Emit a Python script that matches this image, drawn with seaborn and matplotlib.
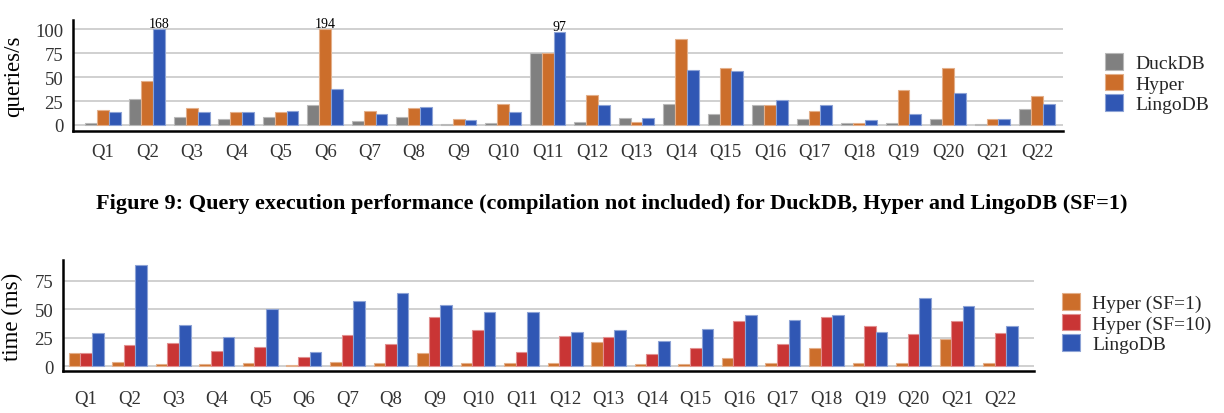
import numpy as np
import pandas as pd
import matplotlib
matplotlib.use("Agg")
import matplotlib.pyplot as plt
import matplotlib.colors as mcolors
import seaborn as sns

queries = ["Q%d" % i for i in range(1, 23)]

# top chart: queries/s (SF=1)
duckdb = [2, 26.7, 8, 6, 8.7, 21, 4.5, 8, 0.5, 2.4, 75.3, 3.1, 6.9, 21.5, 11.8, 20.5, 6.2, 2, 2.4, 6.2, 1.4, 16.3]
hyper = [15.6, 45.5, 17.4, 14, 13.2, 194, 14.2, 17.4, 6.6, 21.9, 75.3, 31.2, 3.5, 89.6, 59.4, 21.2, 14.6, 2, 36.8, 60, 6.2, 30.2]
lingodb = [14, 168, 13, 13.5, 15, 37.5, 11.8, 19, 4.9, 13.9, 97, 20.8, 6.9, 57.3, 55.9, 26, 20.8, 4.9, 11.5, 33, 6.2, 21.9]

# bottom chart: time (ms)
hyper_sf1 = [11.4, 3.5, 1.8, 1.8, 2.9, 1.2, 3.5, 2.6, 11.7, 2.6, 2.3, 2.9, 21.4, 1.8, 2, 7, 2.3, 16.1, 2.3, 2.3, 24, 2.6]
hyper_sf10 = [11.4, 18.5, 20.5, 12.9, 16.4, 8.2, 27, 19.3, 42.8, 31.6, 12, 26, 25.5, 10.8, 15.8, 39.6, 19.3, 42.8, 35.2, 28.1, 39.3, 28.7]
lingodb_ms = [29.3, 89, 36.3, 25.8, 49.8, 12.3, 56.8, 63.9, 53.3, 47.2, 47.8, 30.2, 31.6, 21.7, 32.5, 45.1, 40.4, 44.8, 29.6, 59.5, 52.4, 34.9]

GRAY = "#808080"
ORANGE = "#CC6E2B"
RED = "#C93535"
BLUE = "#3057B4"

sns.set_theme(style="white")
plt.rcParams["font.family"] = ["Liberation Serif", "DejaVu Serif"]

top = pd.DataFrame({
    "query": queries * 3,
    "system": ["DuckDB"] * 22 + ["Hyper"] * 22 + ["LingoDB"] * 22,
    "value": duckdb + hyper + lingodb,
})
top["shown"] = top["value"].clip(upper=100)

bot = pd.DataFrame({
    "query": queries * 3,
    "system": ["Hyper (SF=1)"] * 22 + ["Hyper (SF=10)"] * 22 + ["LingoDB"] * 22,
    "value": hyper_sf1 + hyper_sf10 + lingodb_ms,
})

fig = plt.figure(figsize=(12.24, 4.14), dpi=100)
ax1 = fig.add_axes([0.0596, 0.682, 0.809, 0.268])
ax2 = fig.add_axes([0.0515, 0.1014, 0.793, 0.268])


def lighten(c, amt=0.45):
    r, g, b = mcolors.to_rgb(c)
    return (r + (1 - r) * amt, g + (1 - g) * amt, b + (1 - b) * amt)


def style(ax, ylabel, xlim, ylim, xpad):
    ax.set_xlim(*xlim)
    ax.set_ylim(*ylim)
    ax.set_yticks([0, 25, 50, 75] + ([100] if ylim[1] > 100 else []))
    ax.grid(axis="y", color="#c8c8c8", linewidth=1.2)
    ax.set_axisbelow(True)
    for s in ["top", "right"]:
        ax.spines[s].set_visible(False)
    for s in ["left", "bottom"]:
        ax.spines[s].set_color("black")
        ax.spines[s].set_linewidth(1.8)
    ax.tick_params(axis="x", length=0, pad=xpad, labelsize=13.5, labelcolor="#333333")
    ax.tick_params(axis="y", length=0, pad=7, labelsize=13.5, labelcolor="#333333")
    ax.set_xlabel("")
    ax.set_ylabel(ylabel, fontsize=16.5, color="black", labelpad=8)
    for p in ax.patches:
        p.set_edgecolor(lighten(p.get_facecolor()))
        p.set_linewidth(0.8)


def add_legend(ax, x, y):
    h, l = ax.get_legend_handles_labels()
    ax.get_legend().remove()
    fig.legend(h, l, loc="upper left", bbox_to_anchor=(x / 1224, 1 - y / 414),
               frameon=False, fontsize=14, handlelength=0.95, handleheight=0.95,
               handletextpad=0.6, labelspacing=0.08, borderpad=0, borderaxespad=0)


sns.barplot(data=top, x="query", y="shown", hue="system",
            palette=[GRAY, ORANGE, BLUE], width=0.8, saturation=1,
            ax=ax1, legend=True)
style(ax1, "queries/s", (-0.67, 21.59), (-6, 110), 9)

# values that go past the axis
for q, sysname, v in zip(top["query"], top["system"], top["value"]):
    if v > 95:
        i = queries.index(q)
        off = {"DuckDB": -0.2667, "Hyper": 0, "LingoDB": 0.2667}[sysname]
        ax1.text(i + off, min(v, 100) - 1, "%d" % round(v), ha="center",
                 va="bottom", fontsize=10, color="black")

add_legend(ax1, 1105, 54)

sns.barplot(data=bot, x="query", y="value", hue="system",
            palette=[ORANGE, RED, BLUE], width=0.8, saturation=1,
            ax=ax2, legend=True)
style(ax2, "time (ms)", (-0.53, 21.76), (-4.4, 93), 14)

add_legend(ax2, 1062, 294)

fig.text(0.5, 1 - 204 / 414,
         "Figure 9: Query execution performance (compilation not included) for DuckDB, Hyper and LingoDB (SF=1)",
         ha="center", va="center", fontsize=16, fontweight="bold", color="black")

fig.savefig("out.png", dpi=100)
